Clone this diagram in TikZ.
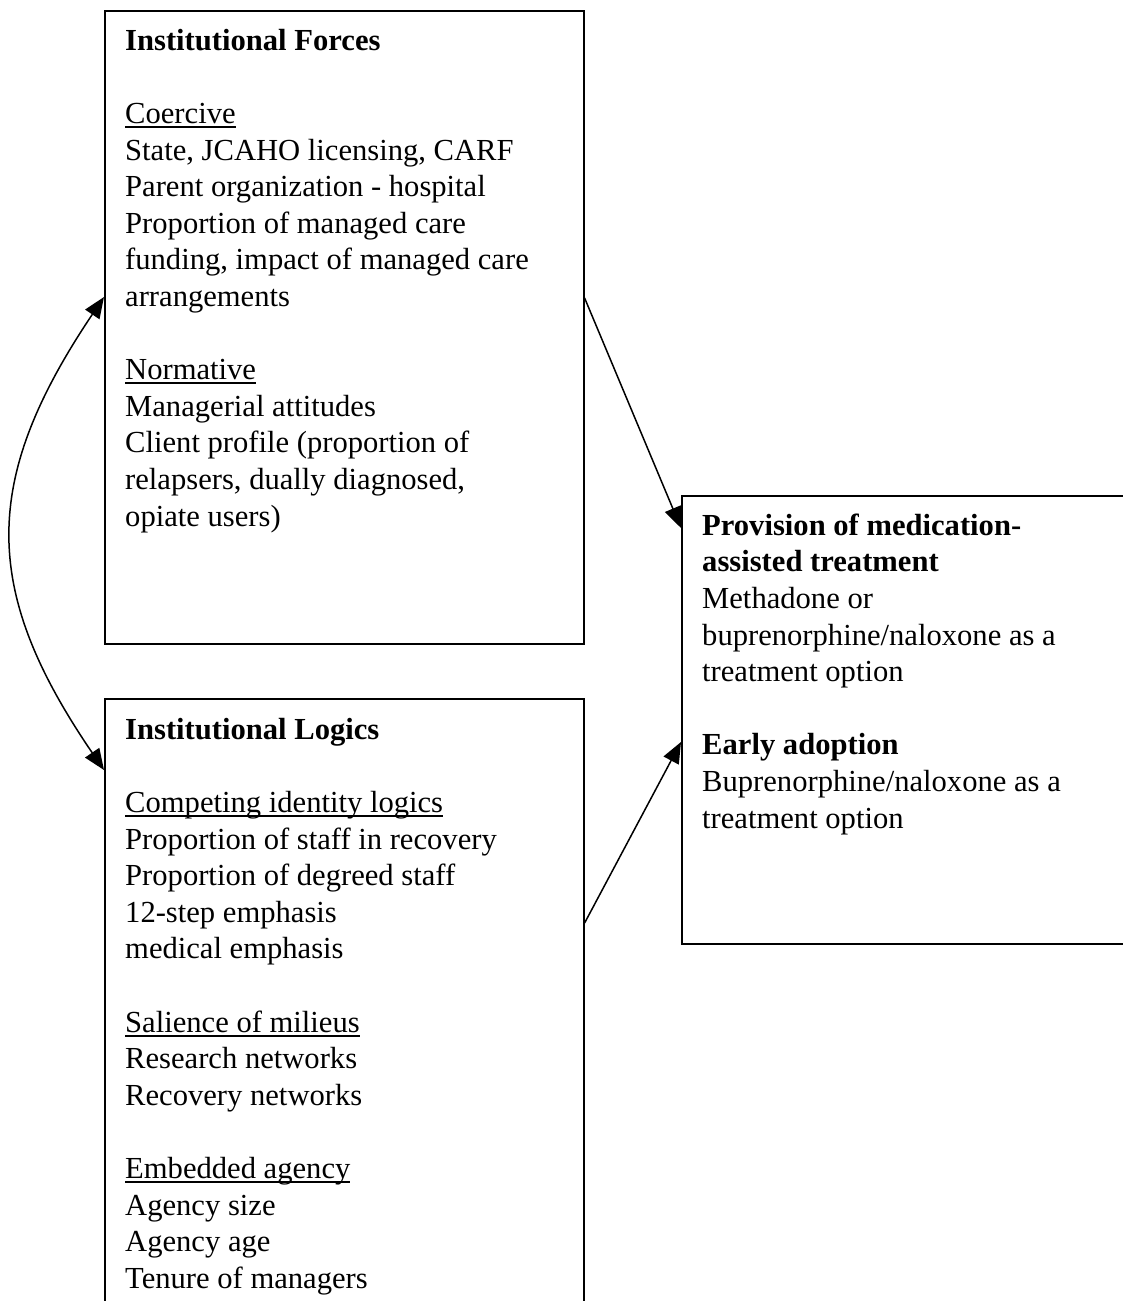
\documentclass[tikz,border=0pt]{standalone}
\usepackage{fontspec}
\setmainfont{Liberation Serif}
\usetikzlibrary{arrows.meta}
\newcommand{\ulx}[1]{\setbox0\hbox{#1}\rlap{\rule[-4.6pt]{\wd0}{2pt}}\box0}
\newcommand{\fs}{\rule{0pt}{30pt}}
\tikzset{
  boxframe/.style={draw, line width=1.6pt, rectangle, inner sep=0pt, anchor=north west},
  boxtext/.style={anchor=north west, inner sep=0pt, align=left, font=\fontsize{30.6pt}{36.6pt}\selectfont},
  conn/.style={line width=1.5pt, -{Triangle[length=21pt,width=17pt]}},
  conn2/.style={line width=1.5pt, {Triangle[length=21pt,width=17pt]}-{Triangle[length=21pt,width=17pt]}}
}
\begin{document}
\begin{tikzpicture}[x=1pt,y=-1pt]
\useasboundingbox (0,0) rectangle (1122,1301);
\fill[white] (0,0) rectangle (1122,1301);
% boxes
\node[boxframe, minimum width=479pt, minimum height=633pt] (box1) at (104,10) {};
\node[boxframe, minimum width=479pt, minimum height=700pt] (box2) at (104,698) {};
\node[boxframe, minimum width=520pt, minimum height=448pt] (box3) at (681,495) {};
% texts
\node[boxtext] (t1) at (125,20) {\fs\textbf{Institutional Forces}\\[36.6pt]
\ulx{Coercive}\\
State, JCAHO licensing, CARF\\
Parent organization - hospital\\
Proportion of managed care\\
funding, impact of managed care\\
arrangements\\[36.6pt]
\ulx{Normative}\\
Managerial attitudes\\
Client profile (proportion of\\
relapsers, dually diagnosed,\\
opiate users)};
\node[boxtext] (t2) at (125,709) {\fs\textbf{Institutional Logics}\\[36.6pt]
\ulx{Competing identity logics}\\
Proportion of staff in recovery\\
Proportion of degreed staff\\
12-step emphasis\\
medical emphasis\\[36.6pt]
\ulx{Salience of milieus}\\
Research networks\\
Recovery networks\\[36.6pt]
\ulx{Embedded agency}\\
Agency size\\
Agency age\\
Tenure of managers};
\node[boxtext] (t3) at (702,505) {\fs\textbf{Provision of medication-}\\
\textbf{assisted treatment}\\
Methadone or\\
buprenorphine/naloxone as a\\
treatment option\\[36.6pt]
\textbf{Early adoption}\\
Buprenorphine/naloxone as a\\
treatment option};
% connectors
\draw[conn] ([yshift=-288pt]box1.north east) -- ([yshift=-33pt]box3.north west);
\draw[conn] ([yshift=-225pt]box2.north east) -- ([yshift=-247pt]box3.north west);
\draw[conn2] ([yshift=-287pt]box1.north west) .. controls (-19,480) and (-19,590) .. ([yshift=-72pt]box2.north west);
\end{tikzpicture}
\end{document}
